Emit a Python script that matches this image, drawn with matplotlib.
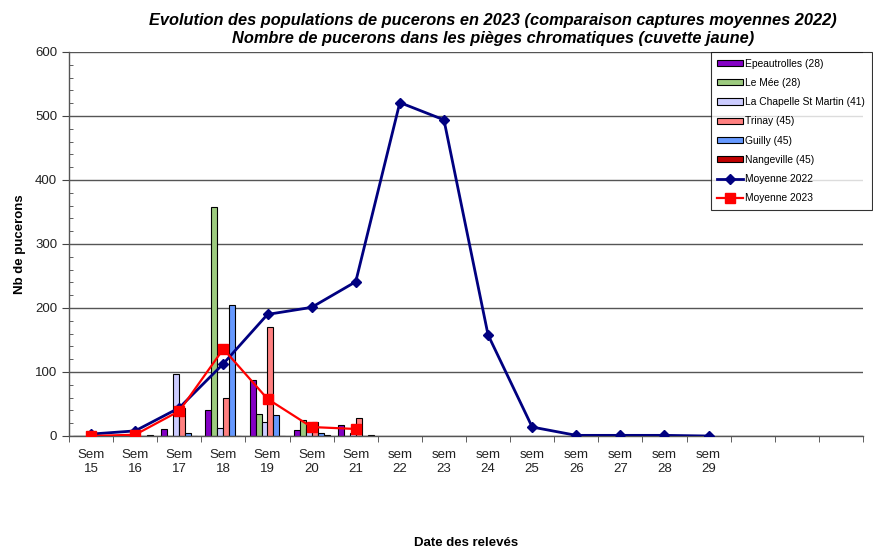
import matplotlib
matplotlib.use("Agg")
import matplotlib.pyplot as plt
import numpy as np
from matplotlib.ticker import MultipleLocator, FixedLocator

plt.rcParams['font.family'] = ['Liberation Sans', 'DejaVu Sans']

categories = ["Sem\n15", "Sem\n16", "Sem\n17", "Sem\n18", "Sem\n19", "Sem\n20", "Sem\n21",
              "sem\n22", "sem\n23", "sem\n24", "sem\n25", "sem\n26", "sem\n27", "sem\n28",
              "sem\n29", "", "", ""]

series_names = ["Epeautrolles (28)", "Le Mée (28)", "La Chapelle St Martin (41)",
                "Trinay (45)", "Guilly (45)", "Nangeville (45)"]
series_colors = ["#8400C4", "#9DCB7F", "#CCCCFF", "#FF8080", "#6699FF", "#C00000"]

epeautrolles = [0, 0, 11, 41, 88, 10, 17]
le_mee = [0, 0, 0, 358, 35, 25, 0]
la_chapelle = [0, 0, 97, 12, 22, 12, 5]
trinay = [0, 0, 44, 60, 170, 22, 28]
guilly = [0, 0, 5, 204, 33, 5, 0]
nangeville = [0, 2, 0, 0, 0, 2, 2]
series_values = [epeautrolles, le_mee, la_chapelle, trinay, guilly, nangeville]

moyenne_2022 = [3, 8, 44, 113, 190, 201, 241, 521, 494, 158, 14, 1, 1, 1, 0]
moyenne_2023 = [0, 2, 39, 136, 58, 14, 11]

fig = plt.figure(figsize=(8.73, 5.49), dpi=100)
ax = fig.add_axes([69/873, 1-436/549, (863-69)/873, (436-52)/549])

n = len(series_names)
w = 0.136
handles = []
for i, (name, vals, col) in enumerate(zip(series_names, series_values, series_colors)):
    x = np.arange(len(vals)) + (i - (n-1)/2) * w
    b = ax.bar(x, vals, width=w, color=col, edgecolor='black', linewidth=0.8,
               label=name, zorder=2)
    handles.append(b)

l1, = ax.plot(np.arange(len(moyenne_2022)), moyenne_2022, color='#000080', lw=2,
              marker='D', markersize=5.5, label='Moyenne 2022', zorder=3)
l2, = ax.plot(np.arange(len(moyenne_2023)), moyenne_2023, color='#FF0000', lw=1.6,
              marker='s', markersize=6.5, label='Moyenne 2023', zorder=4)
handles += [l1, l2]

ax.set_xlim(-0.5, len(categories) - 0.5)
ax.set_ylim(0, 600)
ax.yaxis.set_major_locator(MultipleLocator(100))
ax.yaxis.set_minor_locator(MultipleLocator(20))
ax.grid(axis='y', which='major', color='#555555', lw=1, zorder=0)
ax.set_axisbelow(True)

ax.set_xticks(np.arange(len(categories)))
ax.set_xticklabels(categories, fontsize=9.5, color='#222222', linespacing=1.25)
ax.tick_params(axis='x', which='major', length=0, pad=9)
ax.xaxis.set_minor_locator(FixedLocator(np.arange(len(categories) + 1) - 0.5))
ax.tick_params(axis='x', which='minor', length=4, direction='out', color='#444444')
ax.tick_params(axis='y', which='major', length=5, direction='out', labelsize=9.5,
               color='#444444', labelcolor='#222222')
ax.tick_params(axis='y', which='minor', length=3, direction='in', color='#444444')

for s in ['top', 'right']:
    ax.spines[s].set_visible(False)
for s in ['left', 'bottom']:
    ax.spines[s].set_color('#555555')
    ax.spines[s].set_linewidth(1)

fig.text(20/873, 1-244/549, "Nb de pucerons", fontsize=9.5, fontweight='bold',
         rotation=90, ha='center', va='center')
fig.text(466/873, 1-543/549, "Date des relevés", fontsize=9.5, fontweight='bold',
         ha='center', va='center')

fig.text(493/873, 1-20/549,
         "Evolution des populations de pucerons en 2023 (comparaison captures moyennes 2022)",
         fontsize=11.8, fontweight='bold', fontstyle='italic', ha='center', va='center')
fig.text(493/873, 1-38/549,
         "Nombre de pucerons dans les pièges chromatiques (cuvette jaune)",
         fontsize=11.8, fontweight='bold', fontstyle='italic', ha='center', va='center')

leg = ax.legend(handles=handles, loc='upper right', bbox_to_anchor=(872/873, 1-52/549),
                bbox_transform=fig.transFigure, fontsize=7.4, frameon=True,
                fancybox=False, edgecolor='black', handlelength=2.5,
                handleheight=0.55, labelspacing=0.9, handletextpad=0.25,
                borderaxespad=0, borderpad=0.65)
leg.get_frame().set_linewidth(0.8)

fig.savefig("out.png", dpi=100)
